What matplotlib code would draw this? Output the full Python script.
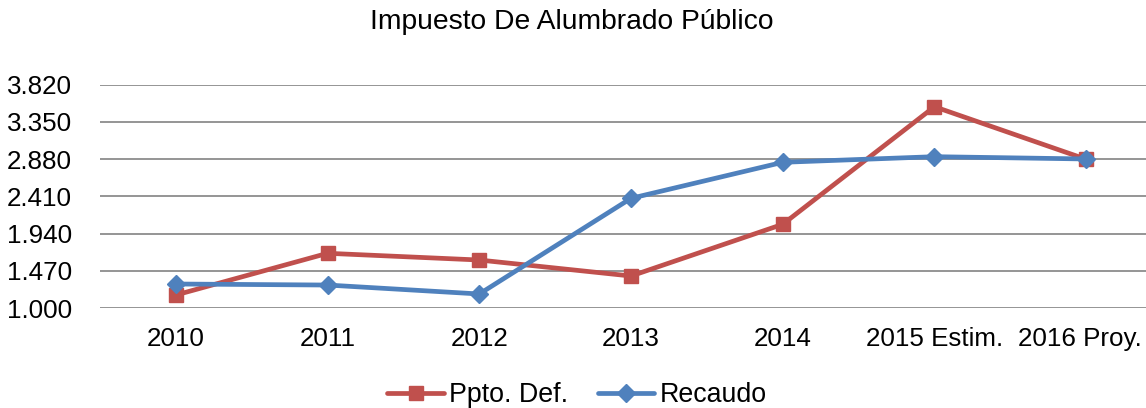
import matplotlib
matplotlib.use("Agg")
import matplotlib.pyplot as plt
from matplotlib.ticker import FixedLocator
from matplotlib.transforms import ScaledTranslation

categories = ["2010", "2011", "2012", "2013", "2014", "2015 Estim.", "2016 Proy."]
ppto_def = [1.164, 1.691, 1.606, 1.404, 2.057, 3.542, 2.878]
recaudo = [1.303, 1.290, 1.177, 2.385, 2.840, 2.911, 2.882]
y_ticks = [1.000, 1.470, 1.940, 2.410, 2.880, 3.350, 3.820]
y_tick_labels = ["1.000", "1.470", "1.940", "2.410", "2.880", "3.350", "3.820"]
title = "Impuesto De Alumbrado Público"

plt.rcParams['font.family'] = ['Liberation Sans', 'DejaVu Sans']

W, H = 1146, 408
fig = plt.figure(figsize=(W / 100, H / 100), dpi=100)
ax = fig.add_axes([100 / W, 100 / H, 1062 / W, 223.3 / H])

xs = [i + 0.5 for i in range(len(categories))]
red = "#C0504D"
blue = "#4F81BD"

ax.plot(xs, ppto_def, color=red, lw=3.4, marker="s", ms=10, label="Ppto. Def.",
        solid_capstyle="round", zorder=3)
ax.plot(xs, recaudo, color=blue, lw=3.4, marker="D", ms=9, label="Recaudo",
        solid_capstyle="round", zorder=4)

ax.set_xlim(0, len(categories))
ax.set_ylim(y_ticks[0], y_ticks[-1])
ax.set_xticks(xs)
ax.set_xticklabels(categories, fontsize=18.7)
ax.yaxis.set_major_locator(FixedLocator(y_ticks))
ax.set_yticklabels(y_tick_labels, fontsize=18.7)
ax.tick_params(axis="both", length=0)
ax.tick_params(axis="x", pad=14)
ax.tick_params(axis="y", pad=20)
for s in ax.spines.values():
    s.set_visible(False)
ax.grid(axis="y", color="#8c8c8c", lw=1.3)
ax.set_axisbelow(True)

# last category label is pushed left to stay inside the chart area
last = ax.get_xticklabels()[-1]
last.set_transform(last.get_transform() + ScaledTranslation(-6 / 100, 0, fig.dpi_scale_trans))

fig.text(572 / W, 1 - 22 / H, title, ha="center", va="center", fontsize=20.3)

fig.legend(loc="center", bbox_to_anchor=(577 / W, 1 - 395 / H), ncol=2, frameon=False,
           fontsize=19.3, handlelength=2.1, handletextpad=0.2, columnspacing=1.1,
           borderpad=0, borderaxespad=0)

fig.savefig("out.png", dpi=100)
